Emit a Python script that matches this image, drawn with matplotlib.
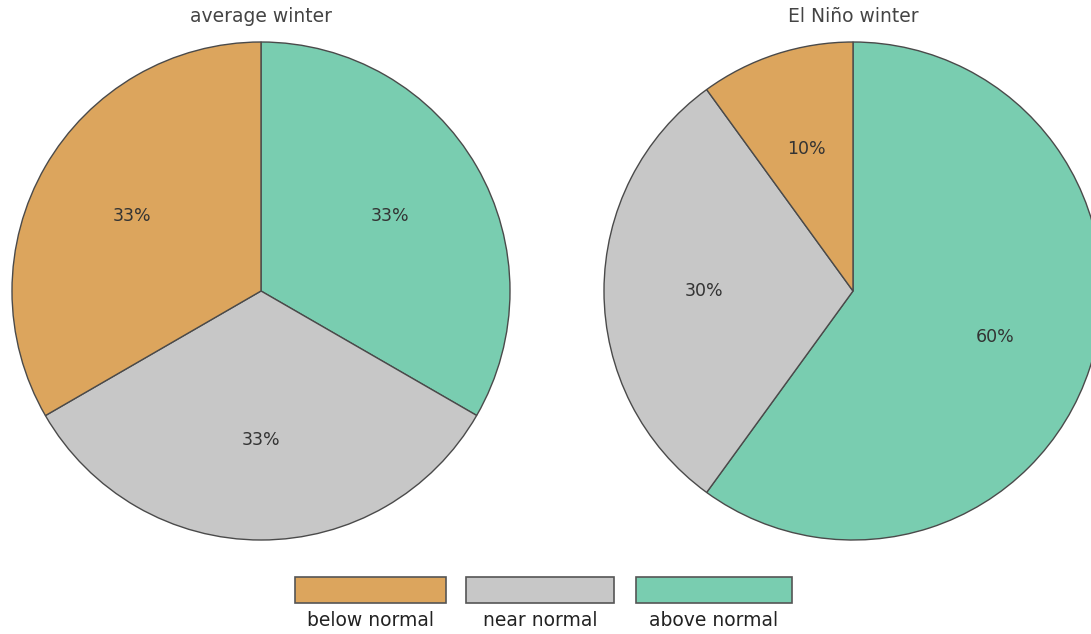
import matplotlib
matplotlib.use("Agg")
import matplotlib.pyplot as plt
from matplotlib.patches import Rectangle

categories = ["above normal", "near normal", "below normal"]
average_winter = [33.33, 33.33, 33.34]
elnino_winter = [60, 30, 10]
titles = ["average winter", "El Niño winter"]
legend_order = ["below normal", "near normal", "above normal"]
colors = {"below normal": "#DCA55D", "near normal": "#C7C7C7", "above normal": "#79CDB0"}

W, H = 1091, 634
fig = plt.figure(figsize=(W / 100, H / 100), dpi=100)
fig.patch.set_facecolor("white")

R = 249
centers = [(261, 291), (853, 291)]
for (cx, cy), vals, title in zip(centers, [average_winter, elnino_winter], titles):
    ax = fig.add_axes([(cx - R) / W, (H - cy - R) / H, 2 * R / W, 2 * R / H])
    wedges, texts, autotexts = ax.pie(
        vals, colors=[colors[c] for c in categories], startangle=90,
        counterclock=False, autopct=lambda p: f"{p:.0f}%", pctdistance=0.6,
        radius=1.0, wedgeprops=dict(edgecolor="#4a4a4a", linewidth=1.0),
        textprops=dict(color="#333333", fontsize=12.5))
    for w in wedges:
        w.set_clip_on(False)
    ax.set_xlim(-1, 1)
    ax.set_ylim(-1, 1)
    ax.set_aspect("equal")
    ax.axis("off")
    fig.text(cx / W, 1 - 16 / H, title, ha="center", va="center",
             fontsize=13.5, color="#444444")

box_x = [295, 466, 636]
box_w = [151, 148, 156]
for x, w, name in zip(box_x, box_w, legend_order):
    fig.patches.append(Rectangle((x / W, 1 - 603 / H), w / W, 26 / H,
                                 transform=fig.transFigure, facecolor=colors[name],
                                 edgecolor="#555555", linewidth=1.2))
    fig.text((x + w / 2) / W, 1 - 621 / H, name, ha="center", va="center",
             fontsize=13.5, color="#222222")

fig.savefig("out.png", dpi=100, facecolor="white")
